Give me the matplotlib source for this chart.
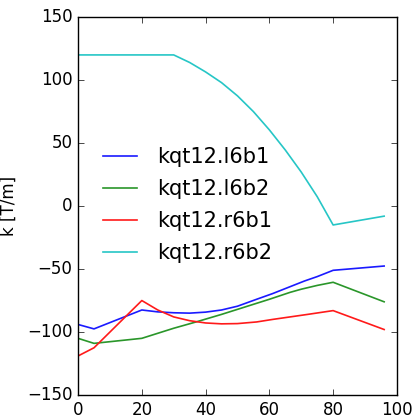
import matplotlib
matplotlib.use("Agg")
import matplotlib.pyplot as plt

# kqt12 gradients along the ramp
x_l6b1 = [0, 5, 20, 25, 30, 35, 40, 45, 50, 56, 61, 66.5, 71, 75, 80, 96]
k_l6b1 = [-94, -97.5, -82.5, -84, -84.7, -85, -84.2, -82.5, -79.5, -74, -69.5, -64, -59.5, -56, -51, -47.6]

x_l6b2 = [0, 5, 20, 30, 37, 45, 50, 60, 66.5, 70, 75, 80, 96]
k_l6b2 = [-105, -109, -105, -97, -92, -86, -82, -74, -68.5, -66, -63, -60.5, -76]

x_r6b1 = [0, 5, 20, 25, 30, 35, 40, 45, 50, 56, 61, 66.5, 72, 80, 96]
k_r6b1 = [-119, -112.5, -75, -82.5, -88, -91, -92.8, -93.5, -93.3, -92, -90, -88, -86, -83, -98]

x_r6b2 = [0, 30, 35, 40, 45, 50, 55, 60, 65, 70, 75, 80, 96]
k_r6b2 = [120, 120, 114, 106.5, 98, 87.5, 75, 60.5, 44.5, 27, 7.5, -15, -8]

labels = ["kqt12.l6b1", "kqt12.l6b2", "kqt12.r6b1", "kqt12.r6b2"]


def main():
    plt.style.use('classic')
    plt.rcParams['font.family'] = ['DejaVu Sans']

    fig = plt.figure(figsize=(4.13, 4.18), dpi=100, facecolor='white')
    ax = fig.add_axes([0.189, 0.055, 0.772, 0.904])

    ax.plot(x_l6b1, k_l6b1, color='#1a1aff', lw=1.2, label=labels[0])
    ax.plot(x_l6b2, k_l6b2, color='#2a962a', lw=1.2, label=labels[1])
    ax.plot(x_r6b1, k_r6b1, color='#ff1a1a', lw=1.2, label=labels[2])
    ax.plot(x_r6b2, k_r6b2, color='#26c6c6', lw=1.2, label=labels[3])

    ax.set_xlim(0, 100)
    ax.set_ylim(-150, 150)
    ax.set_xticks([0, 20, 40, 60, 80, 100])
    ax.set_yticks([-150, -100, -50, 0, 50, 100, 150])
    ax.tick_params(labelsize=12)

    ax.set_ylabel("k [T/m]", fontsize=12)
    ax.yaxis.set_label_coords(-0.19, 0.5)

    ax.legend(loc='center left', frameon=False, fontsize=15, handlelength=1.6,
              handletextpad=1.0, labelspacing=0.58, numpoints=1,
              bbox_to_anchor=(0.02, 0.503))

    fig.savefig('out.png', dpi=100, facecolor='white')


if __name__ == "__main__":
    main()
